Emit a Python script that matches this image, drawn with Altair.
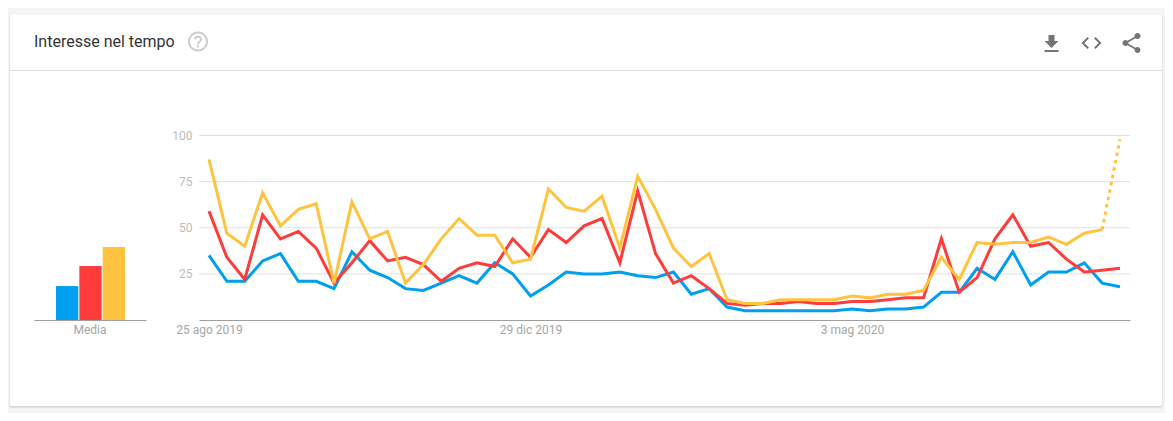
import altair as alt
import pandas as pd

# weekly values, one list per series
blue = [35, 21, 21, 32, 36, 21, 21, 17, 37, 27, 23, 17, 16, 20, 24, 20, 31, 25,
        13, 19, 26, 25, 25, 26, 24, 23, 26, 14, 17, 7, 5, 5, 5, 5, 5, 5,
        6, 5, 6, 6, 7, 15, 15, 28, 22, 37, 19, 26, 26, 31, 20, 18]
red = [59, 34, 22, 57, 44, 48, 39, 20, 31, 43, 32, 34, 30, 21, 28, 31, 29, 44,
       34, 49, 42, 51, 55, 31, 70, 36, 20, 24, 17, 9, 8, 9, 9, 10, 9, 9,
       10, 10, 11, 12, 12, 44, 15, 23, 44, 57, 40, 42, 33, 26, 27, 28]
yellow = [87, 47, 40, 69, 51, 60, 63, 20, 64, 44, 48, 20, 30, 44, 55, 46, 46, 31,
          33, 71, 61, 59, 67, 39, 78, 60, 39, 29, 36, 11, 9, 9, 11, 11, 11, 11,
          13, 12, 14, 14, 16, 34, 22, 42, 41, 42, 42, 45, 41, 47, 49, 98]
averages = [18.4, 29.3, 39.6]
series_names = ["blu", "rosso", "giallo"]
series_colors = ["#009ff0", "#ff3c3c", "#ffc33f"]
y_ticks = [25, 50, 75, 100]
x_ticks = [0, 18, 36]
x_labels = ["25 ago 2019", "29 dic 2019", "3 mag 2020"]

FONT = "Roboto"
DOWNLOAD = "M19 9h-4V3H9v6H5l7 7 7-7zM5 18v2h14v-2H5z"
CODE = "M9.4 16.6L4.8 12l4.6-4.6L8 6l-6 6 6 6 1.4-1.4zm5.2 0l4.6-4.6-4.6-4.6L16 6l6 6-6 6-1.4-1.4z"
SHARE = ("M18 16.08c-.76 0-1.44.3-1.96.77L8.91 12.7c.05-.23.09-.46.09-.7s-.04-.47-.09-.7l7.05-4.11"
         "c.54.5 1.25.81 2.04.81 1.66 0 3-1.34 3-3s-1.34-3-3-3-3 1.34-3 3c0 .24.04.47.09.7L8.04 9.81"
         "C7.5 9.31 6.79 9 6 9c-1.66 0-3 1.34-3 3s1.34 3 3 3c.79 0 1.5-.31 2.04-.81l7.12 4.16"
         "c-.05.21-.08.43-.08.65 0 1.61 1.31 2.92 2.92 2.92 1.61 0 2.92-1.31 2.92-2.92s-1.31-2.92-2.92-2.92z")
HELP = ("M11 18h2v-2h-2v2zm1-16C6.48 2 2 6.48 2 12s4.48 10 10 10 10-4.48 10-10S17.52 2 12 2z"
        "m0 18c-4.41 0-8-3.59-8-8s3.59-8 8-8 8 3.59 8 8-3.59 8-8 8zm0-14c-2.21 0-4 1.79-4 4h2"
        "c0-1.1.9-2 2-2s2 .9 2 2c0 2-3 1.75-3 5h2c0-2.25 3-2.5 3-5 0-2.21-1.79-4-4-4z")

one_row = pd.DataFrame({"a": [0]})
weeks = list(range(len(blue)))

y_scale = alt.Scale(domain=[0, 100], range=[312, 127.5])
x_scale = alt.Scale(domain=[-0.56, 51.56], range=[191, 1122])
x_label_expr = "datum.value == 0 ? '%s' : datum.value == 18 ? '%s' : '%s'" % tuple(x_labels)


def box(x, x2, y, y2, color, opacity=1.0, radius=0):
    return alt.Chart(one_row).mark_rect(color=color, opacity=opacity, cornerRadius=radius).encode(
        x=alt.value(x), x2=alt.value(x2), y=alt.value(y), y2=alt.value(y2))


def icon(path, x, y, color):
    # path is a 24 unit material icon, size 4 draws it at one pixel per unit
    return alt.Chart(one_row).mark_point(shape=path, size=4, filled=True, color=color, opacity=1).encode(
        x=alt.value(x), y=alt.value(y))


# card with a soft shadow
card = [
    box(0, 1157, 0, 405, "#f5f5f5"),
    box(0.5, 1155.5, 7, 401, "#000000", 0.02, 3),
    box(1, 1155, 7, 400, "#000000", 0.04, 3),
    box(2, 1154, 7, 399.5, "#000000", 0.06, 2),
    box(2, 1154, 7, 398, "#ffffff", 1, 2),
    box(2, 1154, 62, 63, "#e0e0e0"),
]

title = alt.Chart(one_row).mark_text(
    text="Interesse nel tempo", font=FONT, fontSize=16, color="#333333", align="left", baseline="alphabetic"
).encode(x=alt.value(26), y=alt.value(39))

icons = [
    icon(HELP, 178, 21.5, "#cccccc"),
    icon(DOWNLOAD, 1031.5, 24, "#757575"),
    icon(CODE, 1071.5, 23, "#757575"),
    icon(SHARE, 1111.5, 23, "#757575"),
]

grid = alt.Chart(pd.DataFrame({"value": y_ticks})).mark_rule(color="#e0e0e0", strokeWidth=1).encode(
    x=alt.value(191), x2=alt.value(1122),
    y=alt.Y("value:Q", scale=y_scale, title=None, axis=alt.Axis(
        values=y_ticks, grid=False, domain=False, ticks=False, offset=-191, labelPadding=7, zindex=1,
        labelFont=FONT, labelFontSize=12, labelColor="#bdbdbd")))

x_axis = alt.Axis(
    orient="bottom", values=x_ticks, labelExpr=x_label_expr, grid=False, ticks=False, offset=-93,
    labelPadding=4, zindex=1, domainColor="#9e9e9e", domainWidth=1, labelFont=FONT, labelFontSize=12,
    labelColor="#a6a6a6", labelOverlap=False, labelFlush=False)

lines = []
for values, color, name in zip([blue, red, yellow], series_colors, series_names):
    df = pd.DataFrame({"week": weeks, "value": values, "serie": name})
    dotted = name == "giallo"
    solid_part = df[df["week"] <= 50] if dotted else df
    lines.append(alt.Chart(solid_part).mark_line(color=color, strokeWidth=3, strokeJoin="miter").encode(
        x=alt.X("week:Q", scale=x_scale, title=None, axis=x_axis),
        y=alt.Y("value:Q", scale=y_scale)))
    if dotted:
        # last week is still partial
        lines.append(alt.Chart(df[df["week"] >= 50]).mark_line(
            color=color, strokeWidth=3, strokeDash=[3.5, 4]).encode(
            x=alt.X("week:Q", scale=x_scale, title=None, axis=x_axis),
            y=alt.Y("value:Q", scale=y_scale)))

bars_df = pd.DataFrame({"gruppo": "Media", "serie": series_names, "value": averages})
bars = alt.Chart(bars_df).mark_bar().encode(
    x=alt.X("gruppo:N", scale=alt.Scale(range=[26, 138], paddingInner=0, paddingOuter=0), title=None, axis=alt.Axis(
        orient="bottom", labelAngle=0, grid=False, ticks=False, offset=-93, labelPadding=4, zindex=1,
        domainColor="#9e9e9e", domainWidth=1, labelFont=FONT, labelFontSize=12, labelColor="#a6a6a6")),
    xOffset=alt.XOffset("serie:N", sort=series_names, scale=alt.Scale(range=[22, 91], paddingInner=0.045)),
    y=alt.Y("value:Q", scale=y_scale),
    color=alt.Color("serie:N", sort=series_names, legend=None,
                    scale=alt.Scale(domain=series_names, range=series_colors)))

chart = alt.layer(*card, title, *icons, alt.layer(grid, *lines), bars).resolve_scale(x="independent").properties(
    width=1157, height=405, padding=0, background="#f5f5f5",
    autosize=alt.AutoSizeParams(type="none")
).configure_view(stroke=None)

chart.save("out.html", embed_options={"renderer": "svg", "actions": False})
